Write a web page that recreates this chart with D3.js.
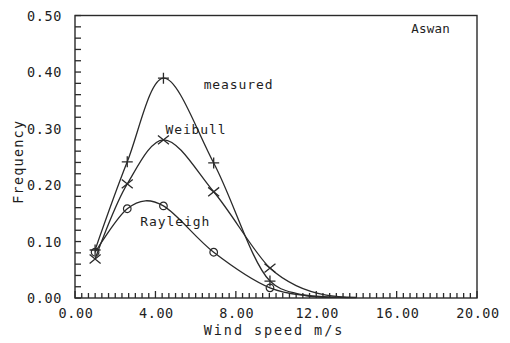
<!DOCTYPE html>
<html>
<head>
<meta charset="utf-8">
<script src="https://cdn.jsdelivr.net/npm/d3@7"></script>
<style>
    body { margin: 0; background: #fff; }
    text { font-family: "DejaVu Sans Mono", monospace; fill: #1e1e1e; }
</style>
</head>
<body>
<div id="wrapper"></div>
<script>
// marker positions (wind speed, m/s)
const markerSpeed = [1.0, 2.6, 4.4, 6.9, 9.7];
const measuredMarks = [0.085, 0.241, 0.389, 0.239, 0.030];
const weibullMarks = [0.069, 0.202, 0.280, 0.188, 0.053];
const rayleighMarks = [0.081, 0.158, 0.163, 0.081, 0.018];

// points
const measuredCurveX = [1.0, 2.6, 4.4, 6.9, 9.7, 11.0, 12.5, 14.0];
const measuredCurveY = [0.085, 0.241, 0.389, 0.239, 0.030, 0.008, 0.002, 0.0005];
const weibullCurveX = [1.0, 2.6, 4.4, 6.9, 9.7, 11.0, 12.5, 14.0];
const weibullCurveY = [0.069, 0.202, 0.280, 0.188, 0.053, 0.022, 0.005, 0.001];
const rayleighCurveX = [1.0, 2.6, 3.5, 4.4, 6.9, 9.7, 11.5, 13.0];
const rayleighCurveY = [0.081, 0.158, 0.172, 0.163, 0.081, 0.018, 0.004, 0.001];

const xTicks = [0, 4, 8, 12, 16, 20];
const yTicks = [0, 0.1, 0.2, 0.3, 0.4, 0.5];

async function drawChart() {
    //1. Access data
    const toPoints = (xs, ys) => xs.map((x, i) => ({ x: x, y: ys[i] }));
    const series = [
        { name: 'measured', marker: 'plus', curve: toPoints(measuredCurveX, measuredCurveY), marks: toPoints(markerSpeed, measuredMarks), label: [6.4, 0.37] },
        { name: 'Weibull', marker: 'cross', curve: toPoints(weibullCurveX, weibullCurveY), marks: toPoints(markerSpeed, weibullMarks), label: [4.5, 0.291] },
        { name: 'Rayleigh', marker: 'circle', curve: toPoints(rayleighCurveX, rayleighCurveY), marks: toPoints(markerSpeed, rayleighMarks), label: [3.25, 0.127] }
    ];
    const xAccessor = d => d.x;
    const yAccessor = d => d.y;

    //2. Create chart dimensions
    const dimensions = {
        width: 510,
        height: 343,
        margin: { top: 15.5, right: 33, bottom: 45, left: 75 }
    };
    dimensions.boundedWidth = dimensions.width
        - dimensions.margin.left - dimensions.margin.right;
    dimensions.boundedHeight = dimensions.height
        - dimensions.margin.top - dimensions.margin.bottom;

    //3. Draw canvas
    const wrapper = d3.select('#wrapper')
        .append('svg')
        .attr('width', dimensions.width)
        .attr('height', dimensions.height);
    const bounds = wrapper.append('g')
        .attr('transform', `translate(${dimensions.margin.left},${dimensions.margin.top})`);

    //4. Create scales
    const xScale = d3.scaleLinear()
        .domain([0, 20])
        .range([0, dimensions.boundedWidth]);
    const yScale = d3.scaleLinear()
        .domain([0, 0.5])
        .range([dimensions.boundedHeight, 0]);

    //5. Draw data
    const lineGenerator = d3.line()
        .x(d => xScale(xAccessor(d)))
        .y(d => yScale(yAccessor(d)))
        .curve(d3.curveCatmullRom.alpha(0.5));

    series.forEach(s => {
        bounds.append('path')
            .attr('d', lineGenerator(s.curve))
            .attr('fill', 'none')
            .attr('stroke', '#2a2a2a')
            .attr('stroke-width', 1.3);

        const marks = bounds.selectAll(null)
            .data(s.marks)
            .join('g')
            .attr('transform', d => `translate(${xScale(xAccessor(d))},${yScale(yAccessor(d))})`);
        if (s.marker === 'circle') {
            marks.append('circle')
                .attr('r', 3.8)
                .attr('fill', 'none')
                .attr('stroke', '#2a2a2a')
                .attr('stroke-width', 1.2);
        } else {
            const r = 5.5;
            const path = s.marker === 'plus'
                ? `M${-r},0H${r}M0,${-r}V${r}`
                : `M${-r},${-r * 0.8}L${r},${r * 0.8}M${-r},${r * 0.8}L${r},${-r * 0.8}`;
            marks.append('path')
                .attr('d', path)
                .attr('stroke', '#2a2a2a')
                .attr('stroke-width', 1.3);
        }

        bounds.append('text')
            .attr('x', xScale(s.label[0]))
            .attr('y', yScale(s.label[1]))
            .style('font-size', '13px')
            .style('letter-spacing', '0.9px')
            .text(s.name);
    });

    //6. Draw peripherals
    // frame
    bounds.append('rect')
        .attr('width', dimensions.boundedWidth)
        .attr('height', dimensions.boundedHeight)
        .attr('fill', 'none')
        .attr('stroke', '#2a2a2a')
        .attr('stroke-width', 1.4);

    // minor ticks, pointing into the plot
    const xMinor = d3.range(0, 61).map(i => i / 3);
    bounds.append('g')
        .selectAll('rect')
        .data(xMinor)
        .join('rect')
        .attr('x', d => xScale(d) - 0.6)
        .attr('y', (d, i) => dimensions.boundedHeight - (i % 12 === 0 ? 7 : 5))
        .attr('width', 1.3)
        .attr('height', (d, i) => i % 12 === 0 ? 7 : 5)
        .attr('fill', '#2a2a2a');

    const yMinor = d3.range(0, 26).map(i => i * 0.02);
    bounds.append('g')
        .selectAll('rect')
        .data(yMinor)
        .join('rect')
        .attr('x', 0)
        .attr('y', d => yScale(d) - 0.6)
        .attr('width', 6)
        .attr('height', 1.3)
        .attr('fill', '#2a2a2a');

    // tick labels
    bounds.selectAll('.xLabel')
        .data(xTicks)
        .join('text')
        .attr('class', 'xLabel')
        .attr('x', d => xScale(d) + 1)
        .attr('y', dimensions.boundedHeight + 20)
        .attr('text-anchor', 'middle')
        .style('font-size', '13.5px')
        .style('letter-spacing', '0.6px')
        .text(d => d.toFixed(2));

    bounds.selectAll('.yLabel')
        .data(yTicks)
        .join('text')
        .attr('class', 'yLabel')
        .attr('x', -13)
        .attr('y', d => yScale(d) + 5)
        .attr('text-anchor', 'end')
        .style('font-size', '13.5px')
        .style('letter-spacing', '0.6px')
        .text(d => d.toFixed(2));

    bounds.append('text')
        .attr('x', dimensions.boundedWidth / 2 - 2)
        .attr('y', dimensions.boundedHeight + 37)
        .attr('text-anchor', 'middle')
        .style('font-size', '13.5px')
        .style('letter-spacing', '1.9px')
        .text('Wind speed m/s');

    bounds.append('text')
        .attr('transform', `translate(-52,${dimensions.boundedHeight / 2 + 5}) rotate(-90)`)
        .attr('text-anchor', 'middle')
        .style('font-size', '13.5px')
        .style('letter-spacing', '1.2px')
        .text('Frequency');

    bounds.append('text')
        .attr('x', xScale(20) - 27)
        .attr('y', yScale(0.5) + 17)
        .attr('text-anchor', 'end')
        .style('font-size', '12.5px')
        .style('letter-spacing', '0.2px')
        .text('Aswan');
}

drawChart();
</script>
</body>
</html>
